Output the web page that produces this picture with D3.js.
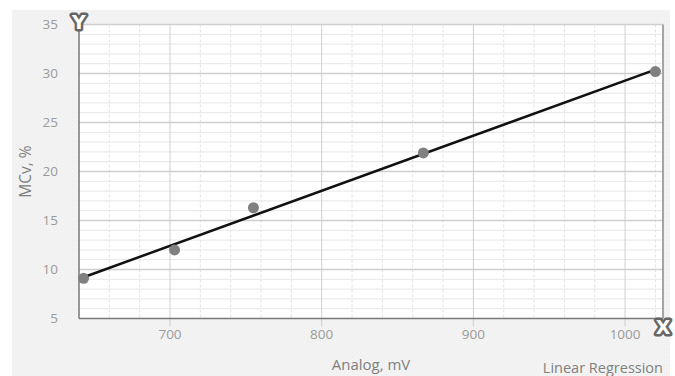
<!DOCTYPE html>
<html>
<head>
<meta charset="utf-8">
<script src="https://cdn.jsdelivr.net/npm/d3@7"></script>
<style>
  body { margin: 0; background: #fff; }
  svg { display: block; font-family: "Open Sans", sans-serif; }
</style>
</head>
<body>
<div id="chartArea"></div>
<script>
var analogMv = [643, 703, 755, 867, 1020];
var mcvPct = [9.1, 12.0, 16.3, 21.9, 30.2];
var xTicks = [700, 800, 900, 1000];
var yTicks = [5, 10, 15, 20, 25, 30, 35];
var xTitle = "Analog, mV";
var yTitle = "MCv, %";
var footer = "Linear Regression";

var W = 675, H = 376;
var plot = {left: 79, top: 24.5, right: 663, bottom: 318.5};

var svg = d3.select("#chartArea").append("svg")
    .attr("width", W)
    .attr("height", H);

// textured-ish grey backdrop
var defs = svg.append("defs");
var pat = defs.append("pattern")
    .attr("id", "tex")
    .attr("width", 4).attr("height", 4)
    .attr("patternUnits", "userSpaceOnUse");
pat.append("rect").attr("width", 4).attr("height", 4).attr("fill", "#f3f3f3");
pat.append("rect").attr("x", 0).attr("y", 0).attr("width", 1).attr("height", 1).attr("fill", "#ebebeb");
pat.append("rect").attr("x", 2).attr("y", 2).attr("width", 1).attr("height", 1).attr("fill", "#ececec");
svg.append("rect")
    .attr("x", 12).attr("y", 10)
    .attr("width", 658).attr("height", H - 10)
    .attr("fill", "url(#tex)");

var x = d3.scaleLinear().domain([640, 1025]).range([plot.left, plot.right]);
var y = d3.scaleLinear().domain([5, 35]).range([plot.bottom, plot.top]);

svg.append("rect")
    .attr("x", plot.left).attr("y", plot.top)
    .attr("width", plot.right - plot.left)
    .attr("height", plot.bottom - plot.top)
    .attr("fill", "#fff");

// minor grid
var grid = svg.append("g");
var xMinor = d3.range(660, 1025, 20).filter(v => v % 100 != 0);
var yMinor = d3.range(6, 35, 1).filter(v => v % 5 != 0);
grid.selectAll(".xm").data(xMinor).enter().append("line")
    .attr("x1", d => x(d)).attr("x2", d => x(d))
    .attr("y1", plot.top).attr("y2", plot.bottom)
    .attr("stroke", "#e2e2e2").attr("stroke-dasharray", "3,2");
grid.selectAll(".ym").data(yMinor).enter().append("line")
    .attr("x1", plot.left).attr("x2", plot.right)
    .attr("y1", d => y(d)).attr("y2", d => y(d))
    .attr("stroke", "#e6e6e6");

// major grid
grid.selectAll(".xM").data(xTicks).enter().append("line")
    .attr("x1", d => x(d)).attr("x2", d => x(d))
    .attr("y1", plot.top).attr("y2", plot.bottom + 8)
    .attr("stroke", "#cfcfcf");
grid.selectAll(".yM").data(yTicks.slice(1)).enter().append("line")
    .attr("x1", plot.left).attr("x2", plot.right)
    .attr("y1", d => y(d)).attr("y2", d => y(d))
    .attr("stroke", "#cfcfcf").attr("stroke-width", 1.5);

// right border
svg.append("line")
    .attr("x1", plot.right).attr("x2", plot.right)
    .attr("y1", plot.top).attr("y2", plot.bottom)
    .attr("stroke", "#8a8a8a").attr("stroke-width", 1.5);

// axes (lines only, labels separately)
svg.append("line")
    .attr("x1", plot.left).attr("x2", plot.left)
    .attr("y1", plot.top).attr("y2", plot.bottom)
    .attr("stroke", "#777").attr("stroke-width", 1.5);
svg.append("line")
    .attr("x1", plot.left).attr("x2", plot.right)
    .attr("y1", plot.bottom).attr("y2", plot.bottom)
    .attr("stroke", "#777").attr("stroke-width", 1.5);

// tick labels
svg.selectAll(".xl").data(xTicks).enter().append("text")
    .attr("x", d => x(d)).attr("y", 339)
    .attr("text-anchor", "middle")
    .attr("font-size", 13.5).attr("fill", "#9a9a9a")
    .text(d => d);
svg.selectAll(".yl").data(yTicks).enter().append("text")
    .attr("x", 58).attr("y", d => y(d) + 4.5)
    .attr("text-anchor", "end")
    .attr("font-size", 13.5).attr("fill", "#9a9a9a")
    .text(d => d);

// titles
svg.append("text")
    .attr("transform", "translate(31," + ((plot.top + plot.bottom) / 2) + ") rotate(-90)")
    .attr("text-anchor", "middle")
    .attr("font-size", 15.5).attr("fill", "#808080")
    .text(yTitle);
svg.append("text")
    .attr("x", 371).attr("y", 370)
    .attr("text-anchor", "middle")
    .attr("font-size", 15).attr("fill", "#808080")
    .text(xTitle);
svg.append("text")
    .attr("x", 663).attr("y", 373)
    .attr("text-anchor", "end")
    .attr("font-size", 14.5).attr("fill", "#808080")
    .text(footer);

// least squares fit through the points
var n = analogMv.length;
var mx = d3.mean(analogMv), my = d3.mean(mcvPct);
var sxy = 0, sxx = 0;
for (var i = 0; i < n; i++) {
    sxy += (analogMv[i] - mx) * (mcvPct[i] - my);
    sxx += (analogMv[i] - mx) * (analogMv[i] - mx);
}
var slope = sxy / sxx, icpt = my - slope * mx;
var xEnds = d3.extent(analogMv);
svg.append("line")
    .attr("x1", x(xEnds[0])).attr("y1", y(icpt + slope * xEnds[0]))
    .attr("x2", x(xEnds[1])).attr("y2", y(icpt + slope * xEnds[1]))
    .attr("stroke", "#111").attr("stroke-width", 2.5);

svg.selectAll(".pt").data(analogMv).enter().append("circle")
    .attr("cx", d => x(d))
    .attr("cy", (d, i) => y(mcvPct[i]))
    .attr("r", 5.5)
    .attr("fill", "#808080");

// axis badges
function badge(cx, cy, letter) {
    svg.append("text")
        .attr("x", cx).attr("y", cy + 7)
        .attr("text-anchor", "middle")
        .attr("font-size", 19).attr("font-weight", "bold")
        .attr("font-family", "DejaVu Sans, sans-serif")
        .attr("fill", "#fff")
        .attr("stroke", "#666").attr("stroke-width", 5)
        .attr("paint-order", "stroke")
        .attr("stroke-linejoin", "round")
        .text(letter);
}
badge(plot.left, 22, "Y");
badge(plot.right, 327, "X");
</script>
</body>
</html>
